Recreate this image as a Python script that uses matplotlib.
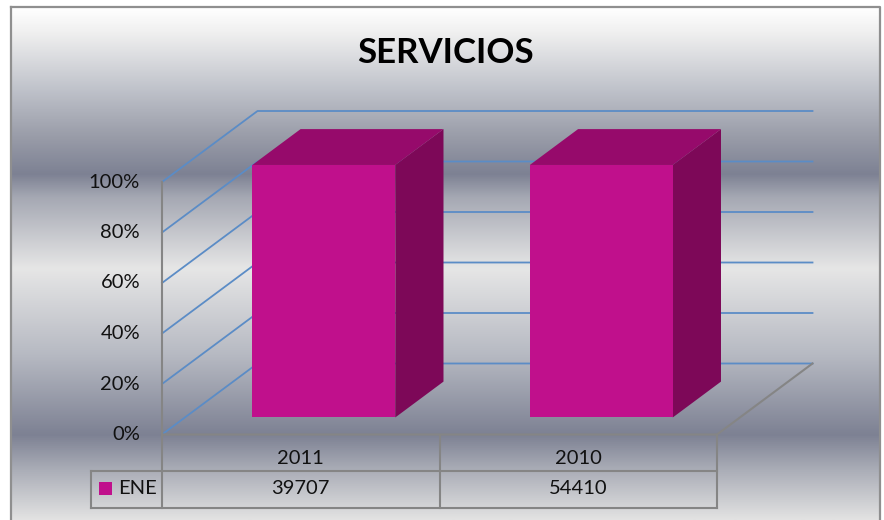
import numpy as np
import matplotlib
matplotlib.use("Agg")
import matplotlib.pyplot as plt
from matplotlib.colors import LinearSegmentedColormap
from matplotlib.patches import Polygon, Rectangle

plt.rcParams['font.family'] = ['Lato', 'DejaVu Sans']

title = "SERVICIOS"
categories = ["2011", "2010"]
series_name = "ENE"
ene_values = [39707, 54410]
y_ticks = [0, 20, 40, 60, 80, 100]

# everything stacked to 100%, so each bar fills the axis
shares = [100 * v / v for v in ene_values]

# projection of the 3d box, in pixels
X0, Y0 = 162, 434.5
CAT_W = 277.5
PCT_H = 252.5 / 100
DEPTH_X, DEPTH_Y = 95.5, -71

FRONT, TOP, SIDE = "#c0108c", "#960a6b", "#7d0858"
BLUE = "#5b8cc6"
GRAY = "#858585"


def project(cat, pct, depth=0):
    return (X0 + cat * CAT_W + depth * DEPTH_X, Y0 - pct * PCT_H + depth * DEPTH_Y)


fig = plt.figure(figsize=(8.84, 5.2), dpi=100)
ax = fig.add_axes([0, 0, 1, 1])
ax.set_xlim(0, 884)
ax.set_ylim(520, 0)
ax.axis("off")

# silver background
stops = [(0, "#ffffff"), (0.05, "#efefef"), (0.16, "#bfc2ca"), (0.25, "#9a9da9"),
         (0.325, "#7d8193"), (0.37, "#a5a8b3"), (0.51, "#e6e6e6"), (0.68, "#b6b9c2"),
         (0.835, "#7d8193"), (0.9, "#a8abb5"), (1, "#e2e2e2")]
cmap = LinearSegmentedColormap.from_list("silver", stops)
grad = np.linspace(0, 1, 256).reshape(-1, 1)
ax.imshow(grad, cmap=cmap, extent=(11, 880, 520, 7), aspect="auto", zorder=0)
ax.set_xlim(0, 884)
ax.set_ylim(520, 0)
ax.plot([11, 11], [520, 7], color="#8f8f8f", lw=1.6, zorder=1)
ax.plot([11, 880, 880], [7, 7, 520], color="#8f8f8f", lw=1.6, zorder=1)

# gridlines on the side and back walls
n = len(categories)
for t in y_ticks:
    pts = [project(0, t), project(0, t, 1), project(n, t, 1)]
    ax.plot(*zip(*pts), color=BLUE, lw=1.3, zorder=2)
    ax.text(X0 - 22, Y0 - t * PCT_H, f"{t}%", ha="right", va="center", fontsize=14.5,
            color="#111111", zorder=6)

# floor and value axis
floor = [project(0, 0), project(n, 0), project(n, 0, 1)]
ax.plot(*zip(*floor), color=GRAY, lw=1.5, zorder=3)
ax.plot(*zip(project(0, 0), project(0, 100)), color=GRAY, lw=1.5, zorder=3)

# bars
for i, share in enumerate(shares):
    l, r = i + 0.243, i + 0.758
    d0, d1 = 0.24, 0.745
    front = [project(l, 0, d0), project(r, 0, d0), project(r, share, d0), project(l, share, d0)]
    top = [project(l, share, d0), project(r, share, d0), project(r, share, d1), project(l, share, d1)]
    side = [project(r, 0, d0), project(r, 0, d1), project(r, share, d1), project(r, share, d0)]
    ax.add_patch(Polygon(side, color=SIDE, lw=0, zorder=4))
    ax.add_patch(Polygon(top, color=TOP, lw=0, zorder=4))
    ax.add_patch(Polygon(front, color=FRONT, lw=0, zorder=5))

# data table under the axis
row1, row2 = 471, 507.5
ax.plot([91, project(n, 0)[0]], [row1, row1], color=GRAY, lw=1.5, zorder=3)
ax.plot([91, project(n, 0)[0]], [row2, row2], color=GRAY, lw=1.5, zorder=3)
ax.plot([91, 91], [row1, row2], color=GRAY, lw=1.5, zorder=3)
for i in range(n + 1):
    x = project(i, 0)[0]
    ax.plot([x, x], [Y0, row2], color=GRAY, lw=1.5, zorder=3)
for i, (cat, val) in enumerate(zip(categories, ene_values)):
    x = project(i + 0.5, 0)[0]
    ax.text(x, 458, cat, ha="center", va="center", fontsize=14.5, color="#111111", zorder=6)
    ax.text(x, 489, str(val), ha="center", va="center", fontsize=14.5, color="#111111", zorder=6)
ax.add_patch(Rectangle((99, 482), 13, 13, color=FRONT, lw=0, zorder=6))
ax.text(118, 489, series_name, ha="left", va="center", fontsize=14.5, color="#111111", zorder=6)

ax.text(445.5, 53, title, ha="center", va="center", fontsize=25, fontweight="bold",
        color="black", zorder=6)

fig.savefig("out.png", dpi=100)
